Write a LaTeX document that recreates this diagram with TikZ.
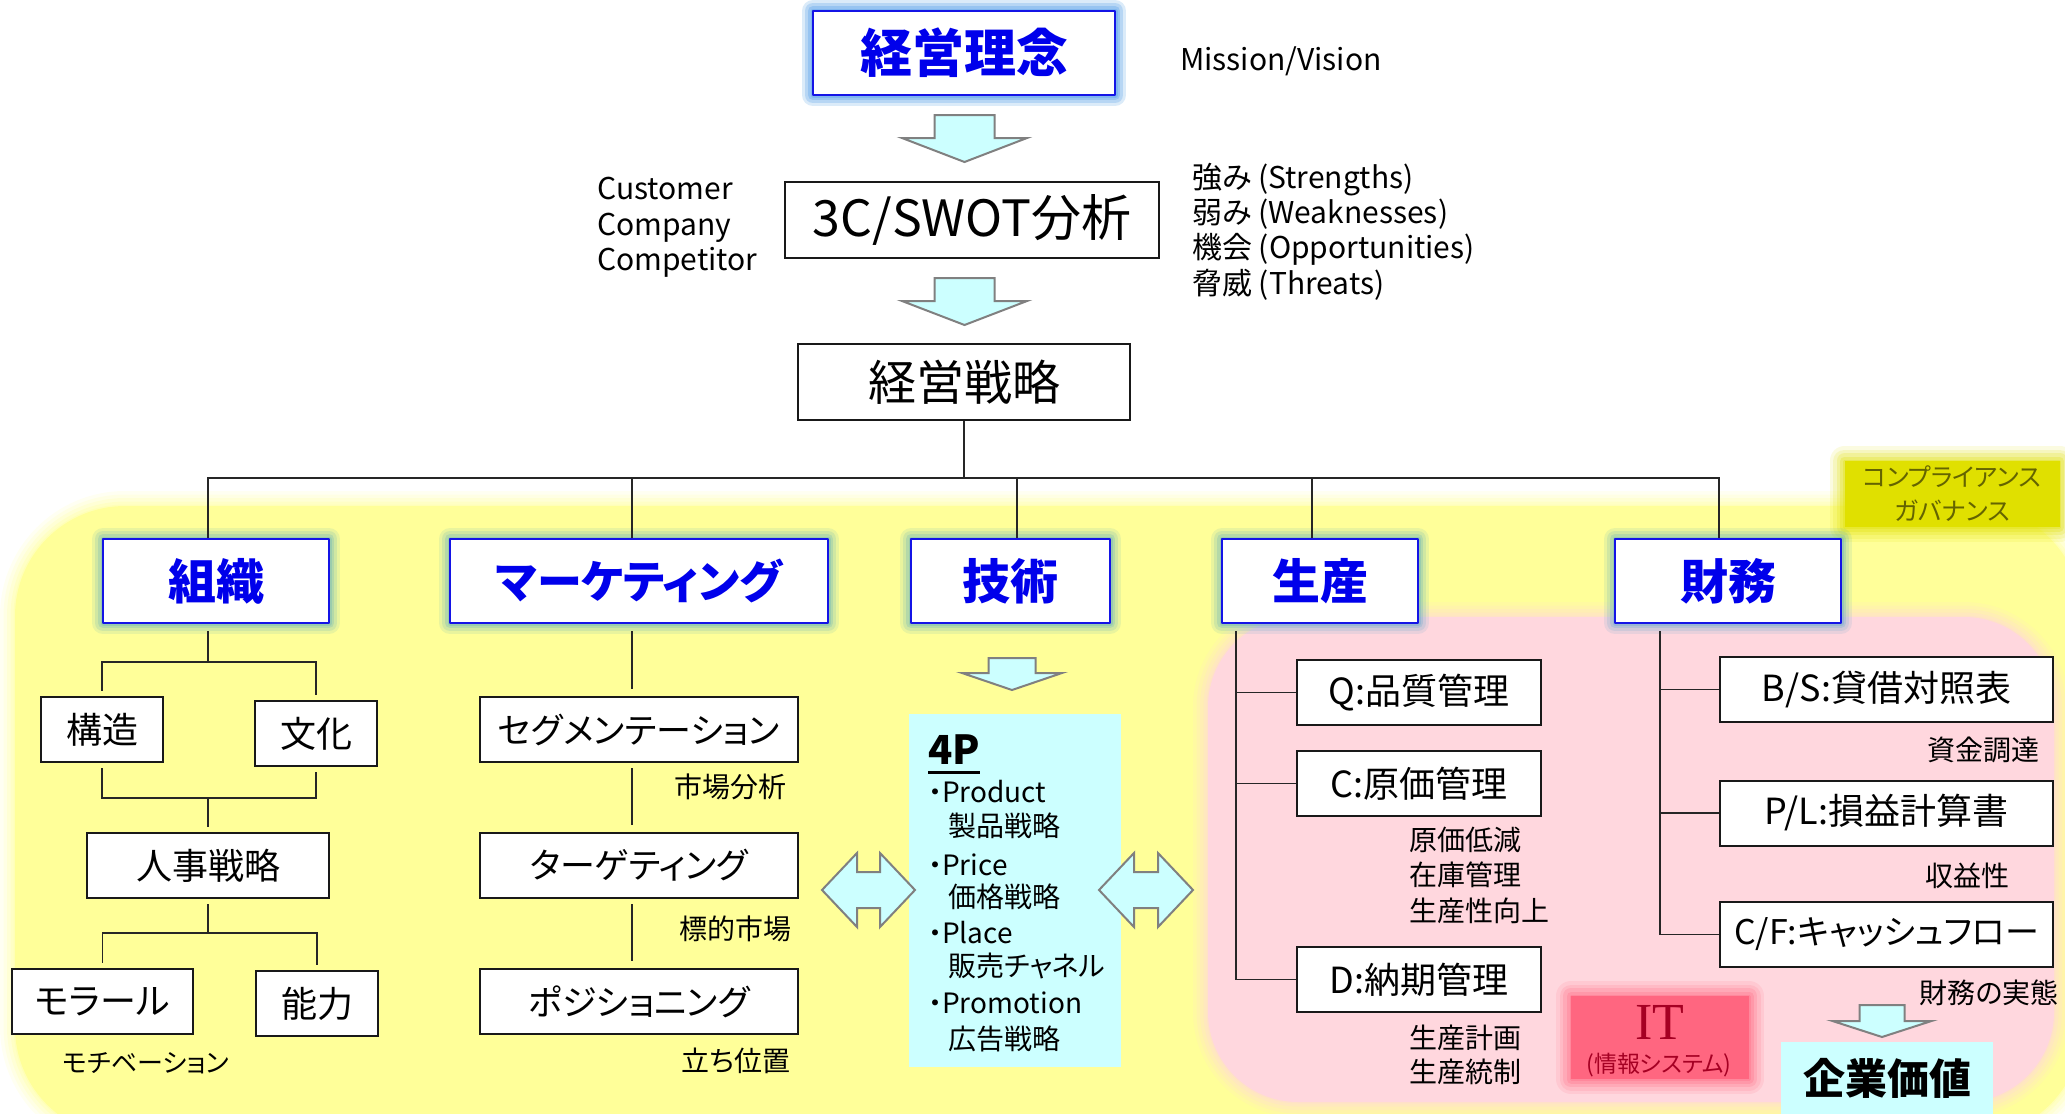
\documentclass[tikz,border=0pt]{standalone}
\usepackage{fontspec}
\setmainfont{Noto Sans CJK JP}[RawFeature={+palt}]
\newfontfamily\itfont{Liberation Serif}
\usetikzlibrary{calc}
\definecolor{ylw}{RGB}{255,255,153}
\definecolor{pnk}{RGB}{255,215,222}
\definecolor{cyn}{RGB}{204,255,255}
\definecolor{bluetxt}{RGB}{0,0,235}
\definecolor{blueline}{RGB}{20,20,230}
\definecolor{glowc}{RGB}{40,150,200}
\definecolor{glowtop}{RGB}{100,160,255}
\definecolor{itred}{RGB}{255,102,128}
\definecolor{itdark}{RGB}{165,0,35}
\definecolor{compl}{RGB}{224,224,0}
\definecolor{compltxt}{RGB}{100,100,0}
\definecolor{arrowgray}{RGB}{128,128,128}
\newcommand{\fsz}[2]{\fontsize{#1}{#2}\selectfont}
\begin{document}
\begin{tikzpicture}[x=1pt,y=-1pt,
  conn/.style={draw=black!85, line width=1.6pt},
  bbox/.style={draw=black!90, line width=2pt, fill=white, inner sep=0pt, font=\fsz{36}{40}},
  glow/.style={line join=round,
               preaction={draw=#1, draw opacity=0.10, line width=22pt},
               preaction={draw=#1, draw opacity=0.13, line width=16pt},
               preaction={draw=#1, draw opacity=0.16, line width=10pt},
               preaction={draw=#1, draw opacity=0.18, line width=5pt}},
  catbox/.style={glow=glowc, draw=blueline, line width=2.5pt, fill=white, text=bluetxt,
                 inner sep=0pt, font=\fsz{48}{52}\bfseries, minimum height=84pt},
  lbl/.style={inner sep=0pt, font=\fsz{28}{32}},
  soft/.style={line join=round,
               preaction={draw=#1, draw opacity=0.12, line width=30pt},
               preaction={draw=#1, draw opacity=0.15, line width=23pt},
               preaction={draw=#1, draw opacity=0.2, line width=16pt},
               preaction={draw=#1, draw opacity=0.25, line width=9pt},
               preaction={draw=#1, draw opacity=0.3, line width=3pt}, fill=#1},
  arr/.style={fill=cyn, draw=arrowgray, line width=2pt, line join=miter},
  pics/darr/.style n args={4}{code={
    \path[arr] (-#3/2,0) -- (#3/2,0) -- (#3/2,#2-#4) -- (#1/2,#2-#4) -- (0,#2)
      -- (-#1/2,#2-#4) -- (-#3/2,#2-#4) -- cycle;}},
  pics/dblarr/.style n args={4}{code={
    \path[arr] (-#1/2,0) -- (-#1/2+#4,-#2/2) -- (-#1/2+#4,-#3/2) -- (#1/2-#4,-#3/2)
      -- (#1/2-#4,-#2/2) -- (#1/2,0) -- (#1/2-#4,#2/2) -- (#1/2-#4,#3/2)
      -- (-#1/2+#4,#3/2) -- (-#1/2+#4,#2/2) -- cycle;}}
]
\useasboundingbox (0,0) rectangle (2065,1114);
\clip (0,0) rectangle (2065,1114);
\fill[white] (0,0) rectangle (2065,1114);

% background regions
\path[soft=ylw, rounded corners=110pt] (15,506) rectangle (2082,1137);
\path[soft=pnk, rounded corners=90pt] (1208,617) rectangle (2054,1102);
\node[soft=compl, minimum width=215pt, minimum height=66pt, inner sep=0pt,
      text=compltxt, align=center, font=\fsz{25}{34}] (compl) at (1952,494)
      {コンプライアンス\\ガバナンス};

% top part
\node[catbox, glow=glowtop, minimum width=302pt, font=\fsz{52}{56}\bfseries] (mission) at (964,53) {経営理念};
\node[lbl, anchor=base west, font=\fsz{30}{34}] (mv) at (1180,70) {Mission/Vision};
\pic at (964.5,115) {darr={125}{47}{60}{24}};
\node[bbox, minimum width=374pt, minimum height=76pt, font=\fsz{50}{54}] (swot) at (972,220) {3C/SWOT分析};
\node[lbl, anchor=base west, font=\fsz{30}{34}] (c1) at (597,199) {Customer};
\node[lbl, anchor=base west, font=\fsz{30}{34}] (c2) at (597,235) {Company};
\node[lbl, anchor=base west, font=\fsz{30}{34}] (c3) at (597,270) {Competitor};
\node[lbl, anchor=base west, font=\fsz{30}{34}] (s1) at (1192,188) {強み (Strengths)};
\node[lbl, anchor=base west, font=\fsz{30}{34}] (s2) at (1192,223) {弱み (Weaknesses)};
\node[lbl, anchor=base west, font=\fsz{30}{34}] (s3) at (1192,258) {機会 (Opportunities)};
\node[lbl, anchor=base west, font=\fsz{30}{34}] (s4) at (1192,294) {脅威 (Threats)};
\pic at (964.5,278) {darr={125}{47}{60}{24}};
\node[bbox, minimum width=332pt, minimum height=76pt, font=\fsz{48}{52}] (strat) at (964,382) {経営戦略};

% category boxes
\coordinate (bus) at (964,478);
\draw[conn] (strat.south) -- (bus);
\node[catbox, minimum width=226pt] (org) at (216,581) {組織};
\node[catbox, minimum width=378pt, font=\fsz{45}{50}\bfseries] (mkt) at (639,581) {マーケティング};
\node[catbox, minimum width=199pt] (tech) at (1010.5,581) {技術};
\node[catbox, minimum width=196pt] (prod) at (1320,581) {生産};
\node[catbox, minimum width=226pt] (fin) at (1728,581) {財務};
\draw[conn] (bus) -| ([xshift=-8pt]org.north);
\draw[conn] (bus) -| ([xshift=-7pt]mkt.north);
\draw[conn] (bus) -| ([xshift=6.5pt]tech.north);
\draw[conn] (bus) -| ([xshift=-8pt]prod.north);
\draw[conn] (bus) -| ([xshift=-9pt]fin.north);

% organisation subtree
\node[bbox, minimum width=122pt, minimum height=65pt] (kozo) at (102,729.5) {構造};
\node[bbox, minimum width=122pt, minimum height=65pt] (bunka) at (316,733.5) {文化};
\node[bbox, minimum width=242pt, minimum height=65pt] (jinji) at (208,865.5) {人事戦略};
\node[bbox, minimum width=181pt, minimum height=65pt] (moral) at (102.5,1001.5) {モラール};
\node[bbox, minimum width=122pt, minimum height=65pt] (noryoku) at (317,1003.5) {能力};
\node[lbl, anchor=base, font=\fsz{26}{30}] (motiv) at (146,1072) {モチベーション};
\coordinate (oj1) at (208,662);
\coordinate (oj2) at (208,798);
\coordinate (oj3) at (208,933);
\draw[conn, shorten <=7pt] ([xshift=-8pt]org.south) -- (oj1);
\draw[conn, shorten >=5pt] (oj1) -| (kozo.north);
\draw[conn, shorten >=5pt] (oj1) -| (bunka.north);
\draw[conn, shorten <=5pt] (kozo.south) |- (oj2);
\draw[conn, shorten <=5pt] (bunka.south) |- (oj2);
\draw[conn, shorten >=5pt] (oj2) -- (jinji.north);
\draw[conn, shorten <=5pt] (jinji.south) -- (oj3);
\draw[conn, shorten >=5pt] (oj3) -| (moral.north);
\draw[conn, shorten >=5pt] (oj3) -| (noryoku.north);

% marketing subtree
\node[bbox, minimum width=318pt, minimum height=65pt, font=\fsz{35}{40}] (seg) at (639,729.5) {セグメンテーション};
\node[bbox, minimum width=318pt, minimum height=65pt, font=\fsz{35}{40}] (tgt) at (639,865.5) {ターゲティング};
\node[bbox, minimum width=318pt, minimum height=65pt, font=\fsz{35}{40}] (pos) at (639,1001.5) {ポジショニング};
\draw[conn, shorten <=7pt, shorten >=7pt] ([xshift=-7pt]mkt.south) -- ([xshift=-7pt]seg.north);
\draw[conn, shorten <=5pt, shorten >=7pt] ([xshift=-7pt]seg.south) -- ([xshift=-7pt]tgt.north);
\draw[conn, shorten <=5pt, shorten >=7pt] ([xshift=-7pt]tgt.south) -- ([xshift=-7pt]pos.north);
\node[lbl, anchor=base] (l1) at (730,797) {市場分析};
\node[lbl, anchor=base] (l2) at (735,939) {標的市場};
\node[lbl, anchor=base] (l3) at (736,1071) {立ち位置};

% technology / 4P
\pic at (1012,658) {darr={100}{32}{47}{17}};
\node[fill=cyn, minimum width=212pt, minimum height=353pt, inner sep=0pt] (fourp) at (1015,890.5) {};
\node[inner sep=0pt, anchor=base west, font=\fsz{40}{44}\bfseries] (p4) at (928,764) {4P};
\draw[line width=3pt] ([yshift=-8pt]p4.base west) -- ([yshift=-8pt]p4.base east);
\foreach \n/\yy/\xx/\t in {pa/802/928/・Product, pb/836/948/製品戦略, pc/875/928/・Price,
   pd/907/948/価格戦略, pe/943/928/・Place, pf/976/948/販売チャネル,
   pg/1013/928/・Promotion, ph/1049/948/広告戦略}
  \node[lbl, anchor=base west] (\n) at (\xx,\yy) {\t};
\pic at (868.5,890) {dblarr={93}{74}{36}{35}};
\pic at (1146,890) {dblarr={94}{74}{36}{35}};

% production subtree
\node[bbox, minimum width=244pt, minimum height=65pt] (qbox) at (1419,692.5) {Q:品質管理};
\node[bbox, minimum width=244pt, minimum height=65pt] (cbox) at (1419,783.5) {C:原価管理};
\node[bbox, minimum width=244pt, minimum height=65pt] (dbox) at (1419,979.5) {D:納期管理};
\coordinate (ptop) at ([xshift=-84pt]prod.south);
\draw[conn, shorten <=7pt] (ptop) |- (dbox.west);
\draw[conn] (ptop |- qbox.west) -- (qbox.west);
\draw[conn] (ptop |- cbox.west) -- (cbox.west);
\node[lbl, anchor=base west] (r1) at (1409,850) {原価低減};
\node[lbl, anchor=base west] (r2) at (1409,885) {在庫管理};
\node[lbl, anchor=base west] (r3) at (1409,921) {生産性向上};
\node[lbl, anchor=base west] (r4) at (1409,1048) {生産計画};
\node[lbl, anchor=base west] (r5) at (1409,1082) {生産統制};

% finance subtree
\node[bbox, minimum width=333pt, minimum height=65pt] (bs) at (1886.5,689.5) {B/S:貸借対照表};
\node[bbox, minimum width=333pt, minimum height=65pt] (pl) at (1886.5,813) {P/L:損益計算書};
\node[bbox, minimum width=333pt, minimum height=65pt, font=\fsz{34}{40}] (cf) at (1886.5,934.5) {C/F:キャッシュフロー};
\coordinate (ftop) at ([xshift=-68pt]fin.south);
\draw[conn, shorten <=7pt] (ftop) |- (cf.west);
\draw[conn] (ftop |- bs.west) -- (bs.west);
\draw[conn] (ftop |- pl.west) -- (pl.west);
\node[lbl, anchor=base east] (f1) at (2040,760) {資金調達};
\node[lbl, anchor=base] (f2) at (1967,886) {収益性};
\node[lbl, anchor=base east] (f3) at (2059,1003) {財務の実態};

% IT and corporate value
\node[soft=itred, minimum width=178pt, minimum height=83pt, inner sep=0pt] (itbox) at (1660,1037.5) {};
\node[inner sep=0pt, text=itdark, font=\itfont\fsz{52}{56}] (ittxt) at (1660,1022) {IT};
\node[inner sep=0pt, text=itdark, font=\fsz{23}{26}] (itsub) at (1659,1065) {(情報システム)};
\pic at (1882,1005) {darr={99}{32}{45}{16}};
\node[fill=cyn, minimum width=212pt, minimum height=80pt, inner sep=0pt] (value) at (1887,1082) {};
\node[inner sep=0pt, font=\fsz{42}{46}\bfseries] (valuetxt) at (1887,1078) {企業価値};
\end{tikzpicture}
\end{document}
